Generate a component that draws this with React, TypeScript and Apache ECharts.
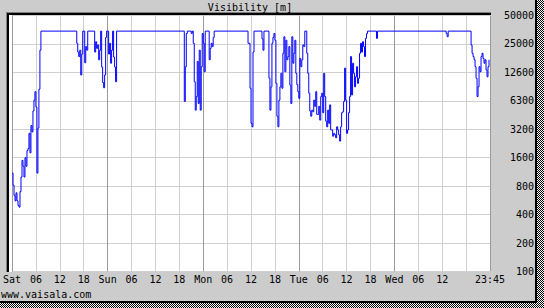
import React, { useEffect, useRef } from 'react';
import * as echarts from 'echarts';

// Hours since Saturday 00:00 and visibility in metres
const hours = [
  0, 0.25, 0.5, 0.75, 1, 1.25, 1.5, 1.75, 2, 2.25,
  2.5, 2.75, 3, 3.25, 3.5, 3.75, 4, 4.25, 4.5, 4.75,
  5, 5.25, 5.5, 5.75, 6, 6.25, 6.5, 6.75, 7, 7.25,
  16.25, 16.5, 16.75, 17, 17.25, 17.5, 17.75, 18.25, 18.5, 18.75,
  19, 20.75, 21, 21.25, 21.5, 21.75, 22, 22.25, 22.5, 22.75,
  23, 23.25, 23.5, 23.75, 24.25, 24.5, 24.75, 25, 25.25, 25.5,
  25.75, 26, 26.25,
  43.25, 43.5, 43.75, 44, 45, 45.25, 45.5, 45.75, 46, 46.25,
  46.5, 46.75, 47, 47.25, 47.5, 47.75, 48, 48.25, 48.5, 49.5,
  49.75, 50, 50.25, 50.5, 50.75,
  59.25, 59.75, 60, 60.25, 60.5, 60.75, 62.75, 63, 63.25, 64.5,
  64.75, 65, 65.25, 65.5, 65.75, 66, 66.25, 66.5, 66.75, 67,
  67.25, 67.5, 67.75, 68, 68.25, 68.5, 68.75, 69, 69.25, 69.5,
  69.75, 70, 70.25, 70.5, 70.75, 71, 71.25, 71.5, 71.75, 72,
  72.25, 72.5, 72.75, 73, 73.25, 73.5, 74, 74.25, 74.5, 74.75,
  75, 75.25, 75.5, 75.75, 76, 76.25, 76.5, 76.75, 77, 77.25,
  77.5, 77.75, 78, 78.25, 78.5, 78.75, 79, 79.25, 79.5, 79.75,
  80, 80.25, 80.5, 80.75, 81, 81.25, 81.5, 81.75, 82, 82.25,
  82.5, 82.75, 83, 83.25, 83.5, 83.75, 84, 84.25, 84.5, 84.75,
  85, 85.25, 85.5, 85.75, 86, 86.25, 86.5, 86.75, 87, 87.25,
  87.5, 87.75, 88, 88.25, 88.5, 88.75, 89, 89.25, 91.5, 91.75,
  109, 109.25, 109.5,
  115.25, 115.5, 115.75, 116, 116.25, 116.5, 116.75, 117, 117.25, 117.5,
  117.75, 118, 118.25, 118.5, 118.75, 119, 119.25, 119.5, 119.75,
];

const visibility = [
  1100, 820, 640, 560, 680, 560, 500, 480, 700, 1000,
  1500, 1300, 1000, 1600, 1300, 1900, 2000, 2900, 1800, 3500,
  3000, 5000, 6500, 8000, 5500, 1100, 3300, 8500, 22000, 35000,
  26000, 21000, 18800, 22000, 12000, 20000, 35000, 16200, 24000, 22000,
  35000, 21000, 27000, 23000, 25000, 17400, 22000, 35000, 14600, 10000,
  8800, 12000, 30000, 35000, 20000, 26000, 16000, 22000, 35000, 18600,
  14600, 10200, 35000,
  6300, 14700, 33000, 35000, 33000, 35000, 26000, 10200, 5100, 7100,
  16700, 6000, 22000, 5100, 14700, 33000, 26000, 13000, 35000, 17400,
  23000, 26000, 24000, 30000, 35000,
  26000, 8700, 3700, 3400, 21000, 35000, 29000, 22000, 35000, 11100,
  5100, 9000, 26000, 30000, 33000, 28000, 9800, 4400, 3400, 6500,
  9000, 12500, 8700, 20400, 30500, 13000, 28000, 17400, 18800, 24000,
  9400, 6000, 30500, 16000, 20400, 28000, 12500, 9500, 8000, 6800,
  18000, 14700, 17400, 25000, 24000, 35000, 20400, 12500, 7700, 5000,
  4400, 5100, 4900, 6500, 5600, 8000, 4600, 4600, 5600, 4000,
  7100, 7700, 4800, 12500, 7100, 3900, 3400, 5100, 3700, 5800,
  3150, 3150, 2700, 2900, 2800, 2600, 3400, 3150, 2800, 2400,
  3400, 4800, 4900, 6300, 14200, 6500, 2900, 3150, 4800, 7100,
  18800, 7400, 16000, 12500, 9000, 11500, 14700, 9800, 11100, 20400,
  26000, 21000, 27000, 24000, 18800, 29300, 33000, 35000, 29300, 35000,
  33000, 30500, 35000,
  24900, 20400, 18800, 17400, 14700, 11100, 7100, 9000, 14700, 13000,
  18800, 20400, 18000, 16000, 17400, 13600, 11500, 14700, 17400,
];

const xTickLabels = [
  'Sat', '06', '12', '18', 'Sun', '06', '12', '18', 'Mon', '06', '12', '18',
  'Tue', '06', '12', '18', 'Wed', '06', '12', '', '23:45',
];

const yTickLabels = ['100', '200', '400', '800', '1600', '3200', '6300', '12600', '25000', '50000'];

const FONT = '"DejaVu Sans Mono", monospace';

export default function App() {
  const ref = useRef<HTMLDivElement>(null);

  useEffect(() => {
    document.body.style.margin = '0';
    const chart = echarts.init(ref.current!, null, { renderer: 'svg' });

    const data = hours.map((h, i) => [h, Math.log2(visibility[i] / 100)]);

    const checkerSvg =
      "<svg xmlns='http://www.w3.org/2000/svg' width='2' height='2' shape-rendering='crispEdges'>" +
      "<rect width='2' height='2' fill='#ffffff'/>" +
      "<rect width='1' height='1' fill='#000000'/>" +
      "<rect x='1' y='1' width='1' height='1' fill='#000000'/></svg>";
    const checker = {
      image: 'data:image/svg+xml;utf8,' + encodeURIComponent(checkerSvg),
      repeat: 'repeat',
      imageWidth: 2,
      imageHeight: 2,
    };

    chart.setOption({
      animation: false,
      backgroundColor: '#cccccc',
      grid: { left: 10, right: 54, top: 15.5, bottom: 36.5, containLabel: false },
      xAxis: {
        type: 'value',
        min: 0,
        max: 120,
        interval: 6,
        axisLine: { show: false },
        axisTick: { show: false },
        axisLabel: {
          formatter: (v: number) => xTickLabels[Math.round(v / 6)] ?? '',
          fontFamily: FONT,
          fontSize: 10,
          color: '#000',
          margin: 3,
          showMinLabel: true,
          showMaxLabel: true,
        },
        splitLine: {
          show: true,
          lineStyle: { color: ['#9a9a9a', '#d0d0d0', '#d0d0d0', '#d0d0d0'], width: 1 },
        },
      },
      yAxis: {
        type: 'value',
        position: 'right',
        min: 0,
        max: 9,
        interval: 1,
        axisLine: { show: false },
        axisTick: { show: false },
        axisLabel: {
          formatter: (v: number) => yTickLabels[Math.round(v)] ?? '',
          align: 'right',
          margin: 44,
          fontFamily: FONT,
          fontSize: 10,
          color: '#000',
        },
        splitLine: { show: true, lineStyle: { color: '#d0d0d0', width: 1 } },
      },
      series: [
        {
          type: 'line',
          data,
          step: 'end',
          symbol: 'none',
          lineStyle: { color: '#0000ff', width: 1 },
          z: 5,
        },
      ],
      graphic: [
        { type: 'rect', z: -1, shape: { x: 9, y: 15, width: 482, height: 257 }, style: { fill: '#ffffff' } },
        { type: 'rect', z: 10, shape: { x: 6, y: 12, width: 1, height: 260 }, style: { fill: '#808080' } },
        { type: 'rect', z: 10, shape: { x: 6, y: 12, width: 485, height: 1 }, style: { fill: '#808080' } },
        { type: 'rect', z: 10, shape: { x: 7, y: 13, width: 2, height: 259 }, style: { fill: '#000000' } },
        { type: 'rect', z: 10, shape: { x: 7, y: 13, width: 484, height: 2 }, style: { fill: '#000000' } },
        { type: 'rect', z: 10, shape: { x: 535, y: 0, width: 2, height: 303 }, style: { fill: '#000000' } },
        { type: 'rect', z: 10, shape: { x: 0, y: 301, width: 537, height: 2 }, style: { fill: '#000000' } },
        { type: 'rect', z: 10, shape: { x: 537, y: 0, width: 7, height: 308 }, style: { fill: checker } },
        { type: 'rect', z: 10, shape: { x: 0, y: 303, width: 537, height: 5 }, style: { fill: checker } },
        {
          type: 'text', z: 10, x: 250, y: 7,
          style: { text: 'Visibility [m]', fontFamily: FONT, fontSize: 10, fill: '#000', align: 'center', verticalAlign: 'middle' },
        },
        {
          type: 'text', z: 10, x: 1, y: 294,
          style: { text: 'www.vaisala.com', fontFamily: FONT, fontSize: 10, fill: '#000', align: 'left', verticalAlign: 'middle' },
        },
      ],
    });

    return () => chart.dispose();
  }, []);

  return <div ref={ref} style={{ position: 'fixed', left: 0, top: 0, width: 544, height: 308 }} />;
}
